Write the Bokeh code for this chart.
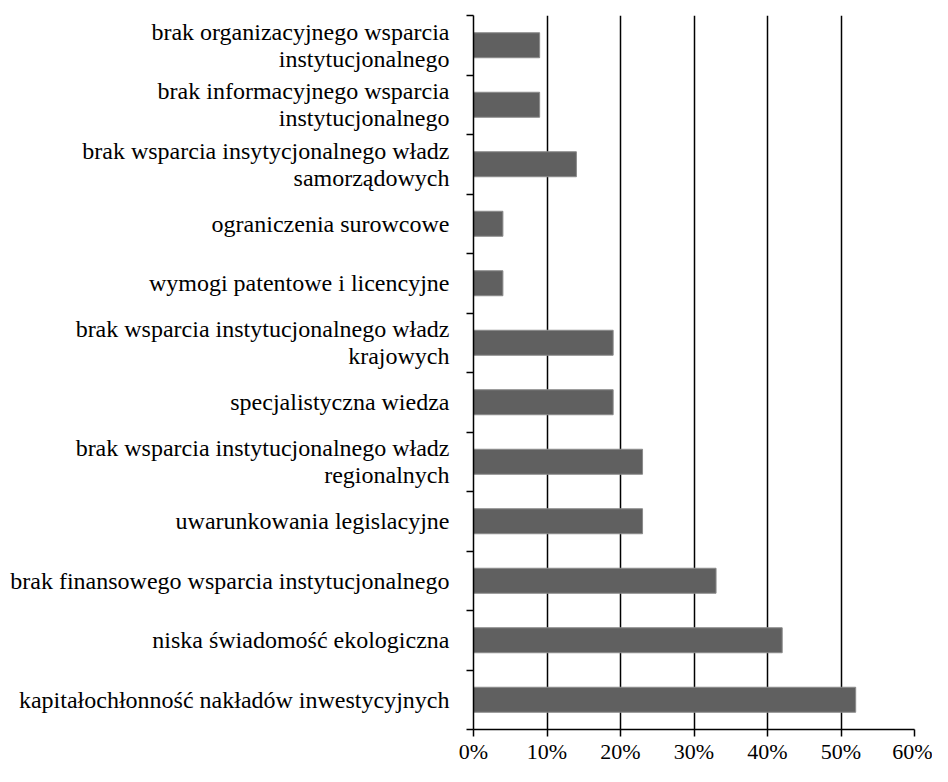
from bokeh.plotting import figure
from bokeh.models import FixedTicker, NumeralTickFormatter, ColumnDataSource, Range1d
from bokeh.embed import file_html
from bokeh.resources import INLINE

# categories listed from bottom to top
categories = [
    "kapitałochłonność nakładów inwestycyjnych",
    "niska świadomość ekologiczna",
    "brak finansowego wsparcia instytucjonalnego",
    "uwarunkowania legislacyjne",
    "brak wsparcia instytucjonalnego władz\nregionalnych",
    "specjalistyczna wiedza",
    "brak wsparcia instytucjonalnego władz\nkrajowych",
    "wymogi patentowe i licencyjne",
    "ograniczenia surowcowe",
    "brak wsparcia insytycjonalnego władz\nsamorządowych",
    "brak informacyjnego wsparcia\ninstytucjonalnego",
    "brak organizacyjnego wsparcia\ninstytucjonalnego",
]
values = [0.52, 0.42, 0.33, 0.23, 0.23, 0.19, 0.19, 0.04, 0.04, 0.14, 0.09, 0.09]
x_ticks = [0.0, 0.1, 0.2, 0.3, 0.4, 0.5, 0.6]

n = len(categories)
centers = [i + 0.5 for i in range(n)]
bounds = [float(i) for i in range(n + 1)]

src = ColumnDataSource(dict(y=centers, v=values, cat=categories))

p = figure(width=932, height=766, output_backend="svg", toolbar_location=None,
           x_range=Range1d(0, 0.6), y_range=Range1d(0, n),
           min_border_left=473, min_border_right=18, min_border_top=15, min_border_bottom=30)
p.outline_line_color = None
p.background_fill_color = "white"
p.border_fill_color = "white"

p.hbar(y="y", right="v", left=0, height=0.42, source=src,
       fill_color="#606060", line_color="#8a8a8a", line_width=1)

FONT = "'Liberation Serif', 'Times New Roman', serif"

# x axis
xa = p.xaxis[0]
xa.ticker = FixedTicker(ticks=x_ticks, minor_ticks=[])
xa.formatter = NumeralTickFormatter(format="0%")
xa.axis_line_color = "black"
xa.axis_line_width = 1.5
xa.major_tick_line_color = "black"
xa.major_tick_line_width = 1.5
xa.major_tick_out = 7
xa.major_tick_in = 0
xa.minor_tick_line_color = None
xa.major_label_text_font = FONT
xa.major_label_text_font_size = "22px"
xa.major_label_text_color = "black"
xa.major_label_standoff = 2

# y axis
ya = p.yaxis[0]
ya.ticker = FixedTicker(ticks=centers, minor_ticks=bounds)
ya.major_label_overrides = {c: lab for c, lab in zip(centers, categories)}
ya.axis_line_color = "black"
ya.axis_line_width = 1.5
ya.major_tick_line_color = None
ya.major_tick_out = 0
ya.major_tick_in = 0
ya.minor_tick_line_color = "black"
ya.minor_tick_line_width = 1.5
ya.minor_tick_out = 7
ya.minor_tick_in = 0
ya.major_label_text_font = FONT
ya.major_label_text_font_size = "24px"
ya.major_label_text_color = "black"
ya.major_label_text_line_height = 1.05
ya.major_label_standoff = 17

# grid
p.xgrid.grid_line_color = "black"
p.xgrid.grid_line_width = 1.5
p.ygrid.grid_line_color = None

open("out.html", "w").write(file_html(p, INLINE))
